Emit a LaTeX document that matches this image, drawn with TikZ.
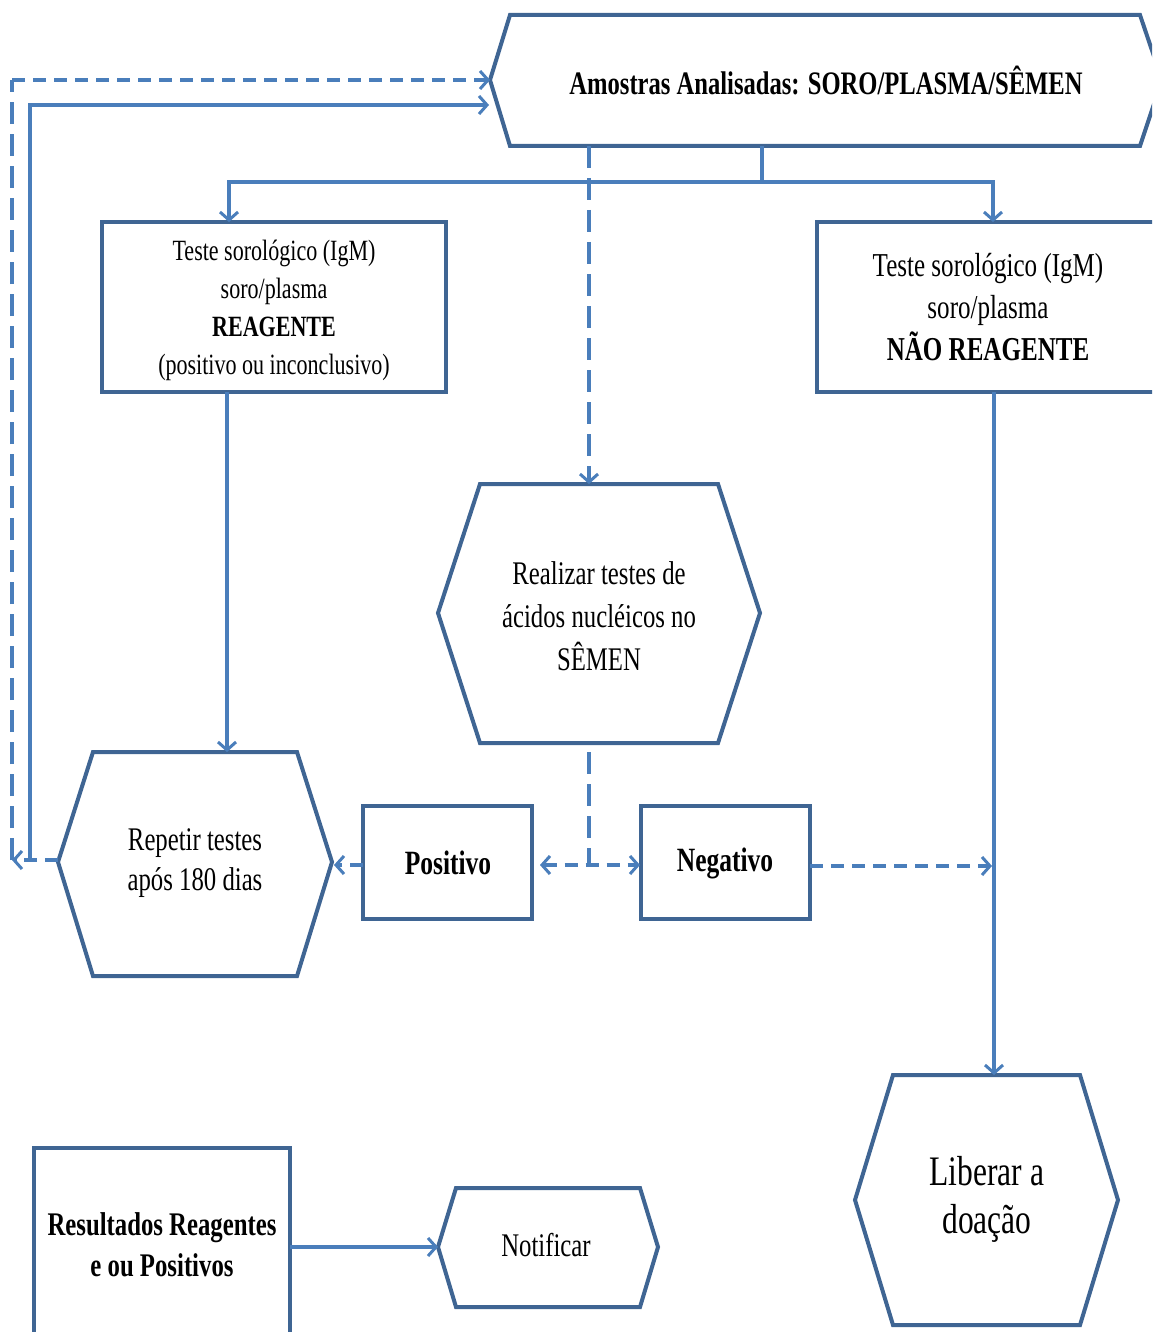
\documentclass[tikz,border=0pt]{standalone}
\usepackage{fontspec}
\setmainfont[FakeStretch=0.75]{Liberation Serif}
\usetikzlibrary{arrows.meta}
\definecolor{bord}{HTML}{3F6593}
\definecolor{conncol}{HTML}{4A7EBB}
\begin{document}
\begin{tikzpicture}[x=0.5pt,y=-0.5pt,
  shapeline/.style={draw=bord,line width=2pt,line join=miter},
  tipb/.tip={Straight Barb[length=4pt,width=9pt,line width=1.5pt]},
  conn/.style={draw=conncol,line width=1.6pt,-tipb},
  hdash/.style={dash pattern=on 6.5pt off 4pt},
  vdash/.style={dash pattern=on 11pt off 5pt},
  plainc/.style={draw=conncol,line width=1.6pt},
  lbl/.style={align=center,inner sep=0pt,text=black}]
\clip (0,0) rectangle (1152,1332);

% ---- shapes ----
\draw[shapeline] (490,80) -- (510,15) -- (1140,15) -- (1162,80) -- (1140,146) -- (510,146) -- cycle;
\node[lbl,font=\bfseries\fontsize{16.4}{20}\selectfont] (top) at (826,80) {Amostras Analisadas: SORO/PLASMA/SÊMEN};

\draw[shapeline] (102,222) rectangle (446,392);
\node[lbl,font=\fontsize{14.7}{19}\selectfont] (b1) at (274,310) {Teste sorológico (IgM)\\soro/plasma\\\textbf{REAGENTE}\\(positivo ou inconclusivo)};

\draw[shapeline] (817,222) rectangle (1170,392);
\node[lbl,font=\fontsize{16.7}{21}\selectfont] (b2) at (988,307) {Teste sorológico (IgM)\\soro/plasma\\\textbf{NÃO REAGENTE}};

\draw[shapeline] (438,613) -- (480,484) -- (718,484) -- (760,613) -- (718,743) -- (480,743) -- cycle;
\node[lbl,font=\fontsize{16.5}{21.5}\selectfont] (re) at (599,616) {Realizar testes de\\ácidos nucléicos no\\SÊMEN};

\draw[shapeline] (58,862) -- (93,752) -- (297,752) -- (332,862) -- (297,976) -- (93,976) -- cycle;
\node[lbl,font=\fontsize{16.5}{20}\selectfont] (rep) at (195,863) {Repetir testes\\após 180 dias};

\draw[shapeline] (363,806) rectangle (532,919);
\node[lbl,font=\bfseries\fontsize{17}{20}\selectfont] (pos) at (448,863) {Positivo};

\draw[shapeline] (641,806) rectangle (810,919);
\node[lbl,font=\bfseries\fontsize{17}{20}\selectfont] (neg) at (725,863) {Negativo};

\draw[shapeline] (855,1200) -- (893,1075) -- (1080,1075) -- (1118,1200) -- (1080,1325) -- (893,1325) -- cycle;
\node[lbl,font=\fontsize{21}{24}\selectfont] (lib) at (987,1199) {Liberar a\\doação};

\draw[shapeline] (34,1148) rectangle (290,1350);
\node[lbl,font=\bfseries\fontsize{16.5}{20.5}\selectfont] (res) at (162,1245) {Resultados Reagentes\\e ou Positivos};

\draw[shapeline] (438,1247) -- (456,1188) -- (640,1188) -- (658,1247) -- (640,1307) -- (456,1307) -- cycle;
\node[lbl,font=\fontsize{16.5}{20}\selectfont] (not) at (546,1245) {Notificar};

% ---- anchor coordinates ----
\coordinate (topS) at (762,146);
\coordinate (split) at (762,182);
\coordinate (b1N) at (229,222);
\coordinate (b2N) at (993,222);
\coordinate (topS2) at (589,146);
\coordinate (reN) at (589,484);
\coordinate (b1S) at (227,392);
\coordinate (repN) at (227,752);
\coordinate (b2S) at (994,392);
\coordinate (libN) at (994,1075);
\coordinate (reS) at (589,752);
\coordinate (mid) at (589,865);
\coordinate (posE) at (540,865);
\coordinate (negW) at (640,865);
\coordinate (posW) at (363,865);
\coordinate (repE) at (334,865);
\coordinate (negE) at (810,866);
\coordinate (libL) at (992,866);
\coordinate (resE) at (290,1247);
\coordinate (notW) at (438,1247);
\coordinate (repW) at (58,860);
\coordinate (loopD) at (12,860);
\coordinate (loopC) at (12,80);
\coordinate (loopS) at (30,860);
\coordinate (topW) at (490,80);
\coordinate (topW2) at (489,105);

% ---- connectors ----
\draw[plainc] (topS) -- (split);
\draw[conn] (split) -| (b1N);
\draw[conn] (split) -| (b2N);
\draw[conn,vdash] (topS2) -- (reN);
\draw[conn] (b1S) -- (repN);
\draw[conn] (b2S) -- (libN);
\draw[plainc,vdash] (reS) -- (mid);
\draw[conn,hdash,tipb-tipb] (posE) -- (negW);
\draw[conn,hdash] (posW) -- (repE);
\draw[conn,hdash] (negE) -- (libL);
\draw[conn] (resE) -- (notW);
\draw[conn,hdash] (repW) -- (loopD);
\draw[plainc,vdash] (loopD) -- (loopC);
\draw[conn,hdash] (loopC) -- (topW);
\draw[conn] (loopS) |- (topW2);
\end{tikzpicture}
\end{document}
